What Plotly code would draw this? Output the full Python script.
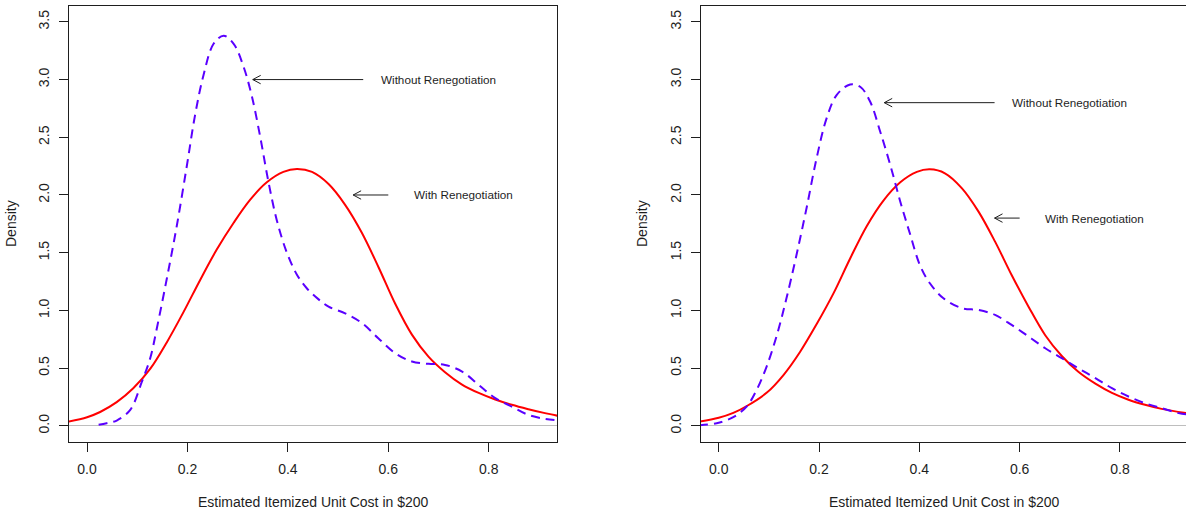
import math
import plotly.graph_objects as go

# ---- density estimates: estimated itemized unit cost (in $200) ----
# left panel
left_with_x = [-0.040, 0.000, 0.026, 0.059, 0.092, 0.126, 0.159, 0.192, 0.225, 0.258,
               0.292, 0.325, 0.358, 0.391, 0.418, 0.448, 0.481, 0.514, 0.547, 0.581,
               0.614, 0.647, 0.680, 0.713, 0.746, 0.780, 0.813, 0.846, 0.879, 0.912, 0.940]
left_with_y = [0.035, 0.075, 0.120, 0.205, 0.325, 0.495, 0.725, 0.985, 1.262, 1.525,
               1.760, 1.960, 2.110, 2.200, 2.225, 2.200, 2.095, 1.915, 1.675, 1.370,
               1.055, 0.790, 0.600, 0.465, 0.360, 0.285, 0.228, 0.182, 0.144, 0.110, 0.085]

left_without_x = [0.023, 0.039, 0.059, 0.086, 0.109, 0.126, 0.139, 0.159, 0.179, 0.199,
                  0.215, 0.232, 0.252, 0.272, 0.292, 0.311, 0.328, 0.345, 0.361, 0.378,
                  0.398, 0.418, 0.438, 0.460, 0.481, 0.514, 0.548, 0.580, 0.614, 0.647,
                  0.680, 0.713, 0.747, 0.780, 0.813, 0.846, 0.879, 0.912, 0.940]
left_without_y = [0.009, 0.023, 0.046, 0.139, 0.380, 0.590, 0.846, 1.279, 1.740, 2.260,
                  2.690, 3.040, 3.310, 3.380, 3.310, 3.120, 2.860, 2.500, 2.120, 1.780,
                  1.500, 1.310, 1.190, 1.100, 1.033, 0.975, 0.889, 0.759, 0.629, 0.557,
                  0.537, 0.528, 0.470, 0.355, 0.240, 0.167, 0.095, 0.061, 0.048]

# right panel
right_with_x = [-0.040, 0.000, 0.029, 0.056, 0.096, 0.129, 0.162, 0.195, 0.229, 0.262,
                0.295, 0.328, 0.362, 0.395, 0.421, 0.451, 0.485, 0.518, 0.551, 0.584,
                0.618, 0.651, 0.684, 0.717, 0.751, 0.784, 0.817, 0.850, 0.883, 0.935]
right_with_y = [0.035, 0.070, 0.112, 0.172, 0.288, 0.440, 0.640, 0.880, 1.150, 1.450,
                1.730, 1.950, 2.110, 2.200, 2.222, 2.188, 2.058, 1.856, 1.596, 1.307,
                1.030, 0.785, 0.605, 0.468, 0.365, 0.285, 0.226, 0.182, 0.147, 0.108]

right_without_x = [-0.040, -0.004, 0.029, 0.056, 0.076, 0.096, 0.116, 0.135, 0.155, 0.175,
                   0.195, 0.215, 0.235, 0.262, 0.282, 0.302, 0.322, 0.342, 0.362, 0.382,
                   0.401, 0.421, 0.448, 0.485, 0.518, 0.551, 0.584, 0.618, 0.651, 0.684,
                   0.717, 0.751, 0.784, 0.817, 0.850, 0.883, 0.917, 0.935]
right_without_y = [0.005, 0.023, 0.075, 0.170, 0.315, 0.520, 0.788, 1.105, 1.480, 1.885,
                   2.317, 2.664, 2.866, 2.958, 2.938, 2.808, 2.548, 2.260, 1.942, 1.654,
                   1.394, 1.235, 1.105, 1.019, 1.004, 0.961, 0.874, 0.773, 0.672, 0.586,
                   0.499, 0.413, 0.326, 0.254, 0.196, 0.153, 0.110, 0.098]

# ---- axis ticks ----
x_ticks = [0.0, 0.2, 0.4, 0.6, 0.8]
x_tick_labels = ["0.0", "0.2", "0.4", "0.6", "0.8"]
y_ticks = [0.0, 0.5, 1.0, 1.5, 2.0, 2.5, 3.0, 3.5]
y_tick_labels = ["0.0", "0.5", "1.0", "1.5", "2.0", "2.5", "3.0", "3.5"]

# ---- labelled arrows: (tail_x, head_x, y, text_x, text) per panel ----
left_labels = [
    (0.55, 0.33, 3.0, 0.70, "Without Renegotiation"),
    (0.60, 0.53, 2.0, 0.75, "With Renegotiation"),
]
right_labels = [
    (0.55, 0.33, 2.8, 0.70, "Without Renegotiation"),
    (0.60, 0.55, 1.8, 0.75, "With Renegotiation"),
]

W, H = 1186, 515
FONT = "Liberation Sans, Arial, Helvetica, sans-serif"
INK = "#1e1e1e"

# panel geometry (pixels)
left_px = (69.0, 557.0)
right_px = (700.7, 1186.0)
top_px, bottom_px = 5.7, 442.0

x_range_left = [-0.036, 0.936]
x_range_right = [-0.036, 0.9317]
y_range = [-0.14, 3.64]

fig = go.Figure()

RED = "#ff0000"
BLUE = "#5a00ff"


def add_panel(xa, ya, with_x, with_y, without_x, without_y):
    fig.add_trace(go.Scatter(
        x=with_x, y=with_y, mode="lines", xaxis=xa, yaxis=ya,
        line=dict(color=RED, width=2, shape="spline", smoothing=1.0),
        showlegend=False, hoverinfo="skip"))
    fig.add_trace(go.Scatter(
        x=without_x, y=without_y, mode="lines", xaxis=xa, yaxis=ya,
        line=dict(color=BLUE, width=2, dash="9px,6px", shape="spline", smoothing=1.0),
        showlegend=False, hoverinfo="skip"))


add_panel("x", "y", left_with_x, left_with_y, left_without_x, left_without_y)
add_panel("x2", "y2", right_with_x, right_with_y, right_without_x, right_without_y)

annotations = []


def add_arrows(xa, ya, labels, px_range, x_range):
    # pixel scale of this panel, used to give the arrow heads a fixed pixel size
    sx = (px_range[1] - px_range[0]) / (x_range[1] - x_range[0])
    sy = (bottom_px - top_px) / (y_range[1] - y_range[0])
    head_len, head_ang = 9.0, math.radians(28)
    dx = head_len * math.cos(head_ang) / sx
    dy = head_len * math.sin(head_ang) / sy
    for tail_x, head_x, y, text_x, text in labels:
        fig.add_trace(go.Scatter(
            x=[tail_x, head_x, head_x + dx, None, head_x, head_x + dx],
            y=[y, y, y + dy, None, y, y - dy],
            mode="lines", xaxis=xa, yaxis=ya,
            line=dict(color=INK, width=1),
            showlegend=False, hoverinfo="skip"))
        annotations.append(dict(
            x=text_x, y=y, xref=xa, yref=ya, text=text, showarrow=False,
            xanchor="center", yanchor="middle",
            font=dict(family=FONT, size=11.7, color=INK)))


add_arrows("x", "y", left_labels, left_px, x_range_left)
add_arrows("x2", "y2", right_labels, right_px, x_range_right)

# axis titles
title_font = dict(family=FONT, size=14, color=INK)
y_mid = 1 - 224.0 / H
for cx in (11.0, 642.0):
    annotations.append(dict(
        x=cx / W, y=y_mid, xref="paper", yref="paper", text="Density",
        textangle=-90, showarrow=False, xanchor="center", yanchor="middle",
        font=title_font))
for cx in (313.0, 944.0):
    annotations.append(dict(
        x=cx / W, y=1 - 502.0 / H, xref="paper", yref="paper",
        text="Estimated Itemized Unit Cost in $200",
        showarrow=False, xanchor="center", yanchor="middle", font=title_font))

tick_font = dict(family=FONT, size=14, color=INK)
y_dom = [1 - bottom_px / H, 1 - top_px / H]

common_x = dict(
    tickmode="array", tickvals=x_ticks, ticktext=x_tick_labels,
    ticks="outside", ticklen=9, tickwidth=1, tickcolor=INK,
    showline=True, linecolor=INK, linewidth=1, mirror=True,
    showgrid=False, zeroline=False, tickfont=tick_font,
    ticklabelstandoff=5, fixedrange=True)
common_y = dict(
    tickmode="array", tickvals=y_ticks, ticktext=y_tick_labels,
    ticks="outside", ticklen=9, tickwidth=1, tickcolor=INK,
    showline=True, linecolor=INK, linewidth=1,
    showgrid=False, zeroline=True, zerolinecolor="#bebebe", zerolinewidth=1,
    tickangle=-90, tickfont=tick_font, ticklabelstandoff=4,
    range=y_range, domain=y_dom, fixedrange=True)

fig.update_layout(
    width=W, height=H, autosize=False,
    margin=dict(l=0, r=0, t=0, b=0),
    paper_bgcolor="white", plot_bgcolor="white",
    font=dict(family=FONT, color=INK),
    xaxis=dict(common_x, domain=[left_px[0] / W, left_px[1] / W],
               range=x_range_left, anchor="y"),
    yaxis=dict(common_y, anchor="x", mirror=True),
    xaxis2=dict(common_x, domain=[right_px[0] / W, 1.0],
                range=x_range_right, anchor="y2"),
    yaxis2=dict(common_y, anchor="x2", mirror=False),
    annotations=annotations,
    showlegend=False,
)

fig.write_html("out.html", config={"displayModeBar": False})
